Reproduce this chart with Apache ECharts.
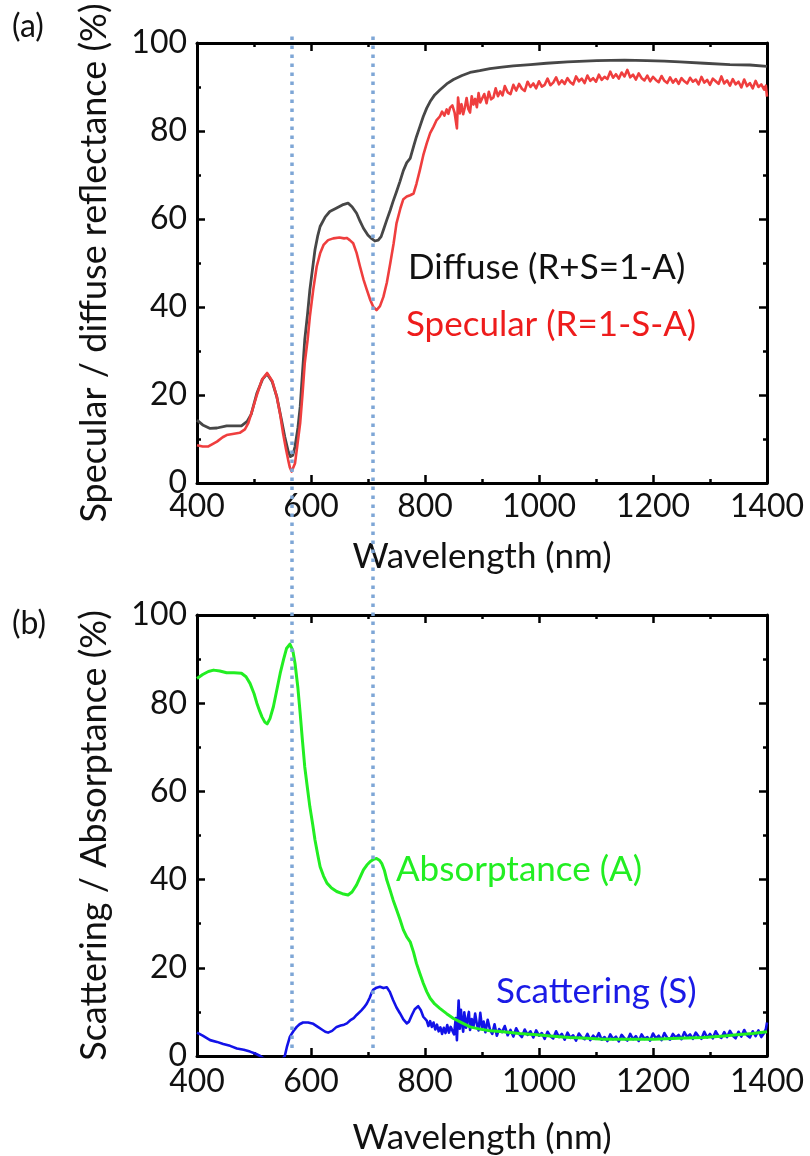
<!DOCTYPE html>
<html>
<head>
<meta charset="utf-8">
<title>Reflectance / absorptance spectra</title>
<script src="https://cdn.jsdelivr.net/npm/echarts@6.0.0/dist/echarts.min.js"></script>
<style>
  html, body { margin: 0; padding: 0; background: #fff; }
  #chart { width: 810px; height: 1156px; }
</style>
</head>
<body>
<div id="chart"></div>
<script>
// wavelength ticks (nm) and percent ticks
var xTicks = [400, 600, 800, 1000, 1200, 1400];
var yTicks = [0, 20, 40, 60, 80, 100];
// dotted guide lines (nm)
var markWl = [566, 709];

// (a) diffuse reflectance, R+S = 1-A
var diffuse = [[400,14.3],[410,13.2],[423,12.4],[435,12.5],[452,13.0],[478,13.0],[488,14.0],[495,15.6],[505,20.4],[515,23.6],[523,24.8],[532,23.0],[540,19.6],[548,14.5],[554,10.5],[560,7.2],[564,6.0],[568,6.3],[572,8.3],[577,12.5],[581,17.3],[585,25],[589,32.5],[594,38.5],[598,43.9],[603,49],[607,53],[612,56.3],[616,58.3],[625,60.5],[633,61.7],[645,62.5],[655,63.2],[665,63.6],[672,62.8],[680,61.3],[686,59.5],[692,57.9],[700,56.3],[706,55.6],[712,55.0],[718,55.2],[723,56.0],[727,57.5],[733,59.8],[739,62.0],[744,64.0],[750,66.2],[756,68.5],[762,71.0],[768,72.8],[774,73.8],[780,76.5],[785,78.7],[791,81.0],[797,83.3],[803,85.2],[809,86.7],[817,88.2],[826,89.3],[838,90.7],[850,91.7],[865,92.6],[879,93.3],[896,93.7],[914,94.2],[935,94.5],[955,94.8],[985,95.1],[1013,95.4],[1050,95.7],[1101,96.0],[1150,96.1],[1189,96.0],[1220,95.9],[1247,95.7],[1290,95.4],[1335,95.1],[1370,95.0],[1400,94.7]];

// (a) specular reflectance, R = 1-S-A
var specular = [[400,8.6],[410,8.3],[420,8.3],[435,9.4],[445,10.4],[452,10.9],[465,11.2],[475,11.4],[484,12.2],[490,13.6],[497,16.5],[505,20],[514,23.5],[523,25],[532,23.2],[540,19.6],[546,15.5],[551,11.3],[556,7.8],[560,5.2],[563,3.5],[566,2.6],[569,3.0],[572,4.5],[576,8.5],[581,13.6],[585,20],[589,27.2],[594,32.5],[598,37.8],[604,44],[610,49.2],[616,52.2],[622,54.1],[630,55.2],[639,55.6],[650,55.8],[658,55.6],[663,55.7],[668,55.2],[674,54.5],[680,52.3],[686,49.2],[692,46.3],[698,43.9],[704,41.6],[709,40.1],[715,39.3],[721,40.2],[727,42.3],[733,45.5],[739,49.9],[745,54.5],[750,59],[757,62.5],[762,64.5],[768,65.1],[774,65.4],[780,65.8],[785,68.0],[791,71.1],[797,74.5],[803,77.2],[809,79.5],[815,81],[820,82.4],[826,83.3],[830,84.4],[834,83.5],[838,84.9],[841,83.9],[844,85.3],
  [848,85.8],[852,84.1],[856,80.6],[858,87.6],[861,84.0],[864,86.1],[867,83.8],[870,85.4],[873,87.5],[876,85.0],[879,84.2],[882,87.9],[885,86.0],[888,87.3],[891,85.4],[894,88.6],[897,86.5],[900,86.9],[904,88.4],[908,86.3],[912,88.9],[916,87.2],[920,87.6],[924,89.7],[928,87.9],[932,89.0],[936,88.1],[940,90.2],[945,88.8],[950,88.4],[955,90.5],[960,89.2],[965,90.7],[970,89.6],[975,89.1],[980,91.2],[985,90.0],[990,90.8],[995,89.7],[1000,91.3],[1005,90.1],[1010,90.5],[1015,91.9],[1020,90.4],[1025,91.0],[1030,92.2],[1035,90.6],[1040,91.5],[1045,90.7],[1050,92.0],[1055,91.1],[1060,90.6],[1065,92.4],[1070,91.3],[1075,91.9],[1080,90.9],[1085,92.6],[1090,91.4],[1095,92.0],[1100,91.2],[1105,92.8],[1110,91.6],[1115,92.3],[1120,91.8],[1125,93.5],[1130,92.1],[1135,92.9],[1140,91.9],[1145,93.3],[1150,92.4],[1155,93.9],[1160,92.2],[1165,92.8],[1170,91.7],[1175,93.1],[1180,92.0],[1185,91.5],[1190,92.6],[1195,91.3],[1200,92.3],[1205,91.6],[1210,91.1],[1215,92.5],[1220,91.4],[1225,90.9],[1230,92.2],[1235,91.0],[1240,91.8],[1245,90.7],[1250,92.0],[1255,91.3],[1260,90.8],[1265,92.1],[1270,91.2],[1275,91.7],[1280,90.6],[1285,92.3],[1290,91.0],[1295,91.6],[1300,90.5],[1305,91.9],[1310,91.3],[1315,90.7],[1320,92.4],[1325,90.8],[1330,91.5],[1335,90.3],[1340,91.8],[1345,90.6],[1350,91.2],[1355,89.9],[1360,91.7],[1365,90.2],[1370,90.9],[1375,89.7],[1380,91.4],[1385,90.0],[1390,90.6],[1395,89.4],[1398,90.3],[1400,87.8]];

// (b) absorptance A
var absorptance = [[400,85.6],[410,86.5],[420,87.2],[429,87.5],[440,87.3],[452,86.9],[465,86.9],[478,86.8],[486,86.0],[493,84.5],[500,82.2],[505,80],[510,78.2],[514,76.9],[519,75.7],[523,75.3],[528,76.5],[534,79.2],[540,83.0],[546,86.8],[552,90.0],[557,92.4],[563,93.4],[568,92.0],[572,89],[577,83.5],[581,77.7],[585,71.5],[589,65.6],[594,60.5],[598,56.5],[603,52.5],[607,49],[612,45.5],[616,42.9],[622,40.8],[628,39.2],[636,38.1],[645,37.3],[655,36.8],[665,36.5],[672,37.2],[680,38.8],[686,40.5],[692,42.2],[698,43.3],[704,44.1],[710,44.6],[715,44.8],[720,44.4],[724,43.7],[729,42.0],[733,39.9],[739,37.5],[744,35.4],[750,33.2],[756,31.0],[762,28.6],[768,27.0],[774,25.9],[780,23.5],[785,21.0],[791,18.7],[797,16.5],[803,14.6],[809,13.1],[817,11.8],[826,10.8],[838,9.6],[850,8.5],[865,7.5],[879,6.6],[896,6.1],[914,5.7],[937,5.5],[965,5.1],[996,4.8],[1025,4.5],[1054,4.2],[1085,4.0],[1113,3.8],[1150,3.8],[1201,3.8],[1245,4.0],[1288,4.2],[1320,4.5],[1347,4.8],[1375,5.1],[1400,5.5]];

// (b) scattering S
var scattering = [[400,5.3],[410,4.6],[423,3.6],[435,3.2],[446,2.7],[458,2.3],[470,1.7],[482,1.4],[493,1.0],[503,0.5],[511,0.0],[520,-0.8],[530,-1.5],[540,-1.8],[548,-1.0],[554,0.0],[558,2.2],[563,4.4],[569,5.6],[575,6.6],[580,7.2],[586,7.6],[595,7.6],[604,7.3],[612,6.6],[619,6.0],[625,5.5],[630,5.3],[637,5.7],[645,6.6],[652,6.9],[658,7.1],[663,7.4],[670,8.2],[675,8.6],[680,9.3],[688,10.3],[693,11.0],[698,11.9],[703,13.2],[706,14.2],[709,15.0],[715,15.5],[721,15.7],[727,15.4],[733,15.6],[738,14.6],[744,12.7],[750,11.0],[756,9.7],[762,8.3],[768,7.4],[772,7.8],[777,9.3],[782,10.6],[788,11.3],[793,10.3],[797,8.9],[803,8.0],[806,6.8],[809,7.9],[812,6.6],[815,7.6],[818,6.0],[821,7.1],[824,5.6],[827,6.5],[830,5.0],[833,6.4],[836,5.2],[839,7.0],[842,5.3],[845,6.6],
  [848,7.0],[851,4.9],[854,8.6],[856,3.6],[859,12.6],[861,6.2],[863,10.5],[865,7.6],[867,5.5],[869,9.9],[872,6.4],[874,8.1],[877,10.0],[879,5.9],[882,8.4],[885,6.6],[888,9.6],[891,7.2],[894,5.8],[897,9.8],[900,6.5],[903,7.8],[906,5.4],[910,8.2],[914,6.0],[918,5.0],[922,7.2],[926,4.6],[930,6.1],[935,5.4],[940,6.8],[945,4.7],[950,5.9],[955,4.4],[960,6.3],[965,5.0],[970,4.3],[975,6.0],[980,4.8],[985,5.6],[990,4.2],[995,5.8],[1000,4.6],[1005,5.2],[1010,3.9],[1015,5.5],[1020,4.5],[1025,4.0],[1030,5.6],[1035,4.3],[1040,5.0],[1045,3.7],[1050,5.3],[1055,4.1],[1060,4.7],[1065,3.5],[1070,5.1],[1075,4.2],[1080,3.8],[1085,5.0],[1090,3.6],[1095,4.6],[1100,3.9],[1105,5.2],[1110,3.7],[1115,4.3],[1120,3.4],[1125,4.9],[1130,3.8],[1135,4.4],[1140,3.3],[1145,4.8],[1150,4.0],[1155,3.5],[1160,5.0],[1165,3.8],[1170,4.5],[1175,3.4],[1180,4.9],[1185,3.9],[1190,4.3],[1195,3.5],[1200,5.1],[1205,4.0],[1210,4.6],[1215,3.6],[1220,5.2],[1225,4.1],[1230,3.7],[1235,5.0],[1240,4.2],[1245,4.8],[1250,3.8],[1255,5.4],[1260,4.3],[1265,4.9],[1270,3.9],[1275,5.3],[1280,4.4],[1285,3.9],[1290,5.5],[1295,4.2],[1300,5.0],[1305,4.0],[1310,5.6],[1315,4.5],[1320,4.1],[1325,5.4],[1330,4.3],[1335,5.7],[1340,4.6],[1345,4.0],[1350,5.5],[1355,4.4],[1360,5.9],[1365,4.7],[1370,4.2],[1375,5.6],[1380,4.5],[1385,5.8],[1390,4.3],[1395,5.2],[1398,6.1],[1400,7.6]];

var FONT = 'Lato, "Noto Sans", sans-serif';
var INK = '#111';

var chart = echarts.init(document.getElementById('chart'), null, { renderer: 'canvas' });

function plain(v) { return String(v); }

function xAx(gridIndex, pos, withLabels, nameGap, labelMargin) {
  return {
    type: 'value', gridIndex: gridIndex, position: pos,
    min: xTicks[0], max: xTicks[xTicks.length - 1], interval: xTicks[1] - xTicks[0],
    name: withLabels ? 'Wavelength (nm)' : '',
    nameLocation: 'middle', nameGap: nameGap,
    nameTextStyle: { fontFamily: FONT, fontSize: 35, color: INK },
    axisLine: { show: true, onZero: false, lineStyle: { color: '#000', width: 3 } },
    axisTick: { show: true, inside: true, length: 8, lineStyle: { color: '#000', width: 2.5 } },
    minorTick: { show: true, splitNumber: 2, length: 4, lineStyle: { color: '#000', width: 2.5 } },
    axisLabel: { show: withLabels, margin: labelMargin, fontFamily: FONT, fontSize: 32, color: INK, formatter: plain },
    splitLine: { show: false }
  };
}

function yAx(gridIndex, pos, name) {
  var left = pos === 'left';
  return {
    type: 'value', gridIndex: gridIndex, position: pos,
    min: yTicks[0], max: yTicks[yTicks.length - 1], interval: yTicks[1] - yTicks[0],
    name: left ? name : '',
    nameLocation: 'middle', nameGap: 85, nameRotate: 90,
    nameTextStyle: { fontFamily: FONT, fontSize: 36, color: INK },
    axisLine: { show: true, onZero: false, lineStyle: { color: '#000', width: 3 } },
    axisTick: { show: true, inside: true, length: 8, lineStyle: { color: '#000', width: 2.5 } },
    minorTick: { show: true, splitNumber: 2, length: 4, lineStyle: { color: '#000', width: 2.5 } },
    axisLabel: { show: left, margin: 10, fontFamily: FONT, fontSize: 32, color: INK, formatter: plain },
    splitLine: { show: false }
  };
}

function curve(name, data, xi, yi, color, width, z) {
  return {
    name: name, type: 'line', data: data,
    xAxisIndex: xi, yAxisIndex: yi,
    showSymbol: false, symbol: 'none', smooth: false, clip: true,
    lineStyle: { color: color, width: width, join: 'round' }, z: z,
    animation: false
  };
}

function label(text, x, y, color, size) {
  return { type: 'text', x: x, y: y, z: 20,
    style: { text: text, fill: color, fontSize: size, fontFamily: FONT, verticalAlign: 'middle' } };
}

var option = {
  backgroundColor: '#fff',
  animation: false,
  grid: [
    { left: 197, right: 43, top: 43, height: 440 },
    { left: 197, right: 43, top: 615, height: 441 },
    { left: 197, right: 43, top: 35, height: 1013 }
  ],
  xAxis: [
    xAx(0, 'bottom', true, 56, 8),
    xAx(0, 'top', false, 0, 8),
    xAx(1, 'bottom', true, 64, 10),
    xAx(1, 'top', false, 0, 8),
    { type: 'value', gridIndex: 2, min: xTicks[0], max: xTicks[xTicks.length - 1], show: false }
  ],
  yAxis: [
    yAx(0, 'left', 'Specular / diffuse reflectance (%)'),
    yAx(0, 'right', ''),
    yAx(1, 'left', 'Scattering / Absorptance (%)'),
    yAx(1, 'right', ''),
    { type: 'value', gridIndex: 2, min: 0, max: 1, show: false }
  ],
  series: [
    curve('Diffuse (R+S=1-A)', diffuse, 0, 0, '#474747', 2.8, 3),
    curve('Specular (R=1-S-A)', specular, 0, 0, '#ef3e3e', 2.6, 4),
    curve('Scattering (S)', scattering, 2, 2, '#1212e8', 2.6, 3),
    curve('Absorptance (A)', absorptance, 2, 2, '#22ee22', 3, 4),
    {
      type: 'line', xAxisIndex: 4, yAxisIndex: 4, data: [], z: 10,
      markLine: {
        silent: true, symbol: ['none', 'none'], animation: false,
        label: { show: false },
        lineStyle: { color: '#7ea6d6', width: 3.5, type: [3.5, 5.5] },
        data: markWl.map(function (w) { return { xAxis: w }; })
      }
    }
  ],
  graphic: [
    label('(a)', 12, 27, INK, 32),
    label('(b)', 12, 624, INK, 32),
    label('Diffuse (R+S=1-A)', 408, 268, '#111', 35),
    label('Specular (R=1-S-A)', 406, 325, '#ee1c1c', 35),
    label('Absorptance (A)', 396, 870, '#22ee22', 35),
    label('Scattering (S)', 496, 992, '#1a1ae6', 35)
  ]
};

chart.setOption(option);
</script>
</body>
</html>
